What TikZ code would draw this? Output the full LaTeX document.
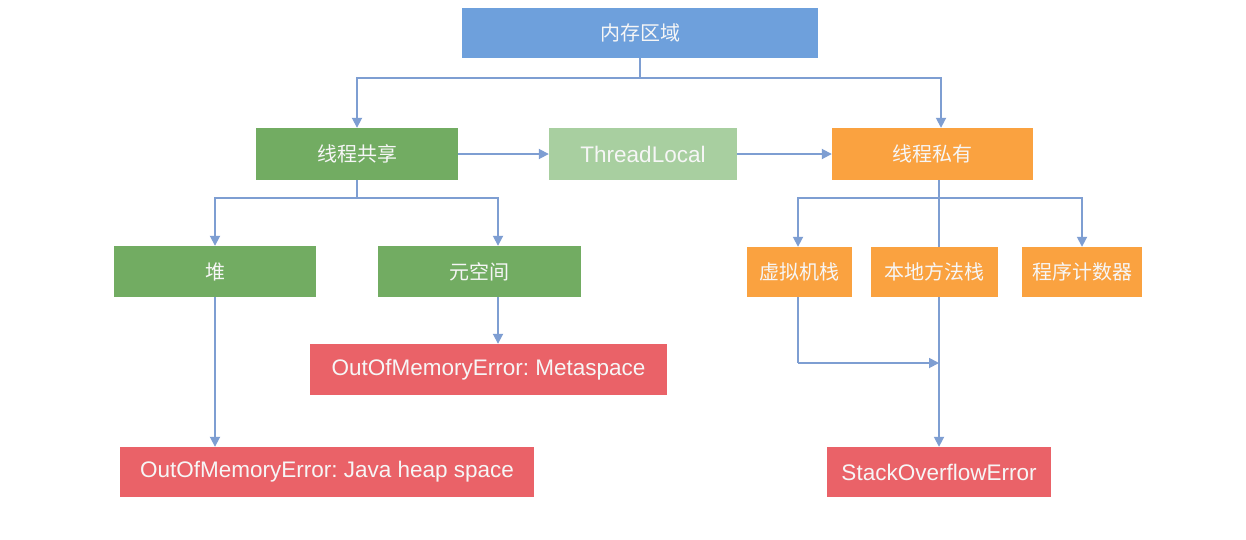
\documentclass[tikz,border=0pt]{standalone}
\usepackage{fontspec}
\setmainfont{Liberation Sans}
\newfontfamily\cjk{Noto Sans CJK SC}
\usetikzlibrary{arrows.meta}
\definecolor{cblue}{RGB}{110,160,220}
\definecolor{cgreen}{RGB}{114,172,98}
\definecolor{clgreen}{RGB}{168,207,160}
\definecolor{corange}{RGB}{250,162,64}
\definecolor{cred}{RGB}{234,98,104}
\definecolor{cline}{RGB}{126,158,210}
\definecolor{ctext}{RGB}{246,246,246}
\tikzset{
  box/.style={rectangle, inner sep=0pt, minimum height=51pt, text=ctext, font=\frenchspacing\fontsize{22.5}{26}\selectfont},
  cn/.style={box, font=\cjk\fontsize{20}{24}\selectfont},
  arr/.style={draw=cline, line width=1.8pt, -{Triangle[length=10pt,width=10pt]}},
  ln/.style={draw=cline, line width=1.8pt},
}
\begin{document}
\begin{tikzpicture}[x=1pt,y=-1pt]
\useasboundingbox[fill=white] (0,0) rectangle (1246,539);
% nodes
\node[cn, fill=cblue, minimum width=356pt, minimum height=50pt] (top) at (640,33) {内存区域};
\node[cn, fill=cgreen, minimum width=202pt, minimum height=52pt] (shared) at (357,154) {线程共享};
\node[box, fill=clgreen, minimum width=188pt, minimum height=52pt] (tl) at (643,154) {ThreadLocal};
\node[cn, fill=corange, minimum width=201pt, minimum height=52pt] (private) at (932.5,154) {线程私有};
\node[cn, fill=cgreen, minimum width=202pt] (heap) at (215,271.5) {堆};
\node[cn, fill=cgreen, minimum width=203pt] (meta) at (479.5,271.5) {元空间};
\node[box, fill=cred, minimum width=357pt] (oommeta) at (488.5,369.5) {OutOfMemoryError: Metaspace};
\node[box, fill=cred, minimum width=414pt, minimum height=50pt] (oomheap) at (327,472) {OutOfMemoryError: Java heap space};
\node[cn, fill=corange, minimum width=105pt, minimum height=50pt] (vm) at (799.5,272) {虚拟机栈};
\node[cn, fill=corange, minimum width=127pt, minimum height=50pt] (native) at (934.5,272) {本地方法栈};
\node[cn, fill=corange, minimum width=120pt, minimum height=50pt] (pc) at (1082,272) {程序计数器};
\node[box, fill=cred, minimum width=224pt, minimum height=50pt] (soe) at (939,472) {StackOverflowError};
% junctions
\coordinate (j1) at (640,78);
\coordinate (j2) at (357,198);
\coordinate (j3) at (939,198);
\coordinate (j4) at (798,363);
\coordinate (j5) at (939,363);
% connectors
\draw[ln] (top.south) -- (j1);
\draw[arr] (j1) -| (shared.north);
\draw[arr] (j1) -| (private.north -| 941,0);
\draw[arr] (shared.east) -- (tl.west);
\draw[arr] (tl.east) -- (private.west);
\draw[ln] (shared.south) -- (j2);
\draw[arr] (j2) -| (heap.north);
\draw[arr] (j2) -| (meta.north -| 498,0);
\draw[arr] (meta.south -| 498,0) -- (oommeta.north -| 498,0);
\draw[arr] (heap.south) -- (oomheap.north -| heap.south);
\draw[ln] (private.south -| j3) -- (j3);
\draw[ln] (j3) -- (native.north -| j3);
\draw[arr] (j3) -| (vm.north -| j4);
\draw[arr] (j3) -| (pc.north);
\draw[arr] (native.south -| j3) -- (soe.north);
\draw[ln] (vm.south -| j4) -- (j4);
\draw[arr] (j4) -- (j5);
\end{tikzpicture}
\end{document}
